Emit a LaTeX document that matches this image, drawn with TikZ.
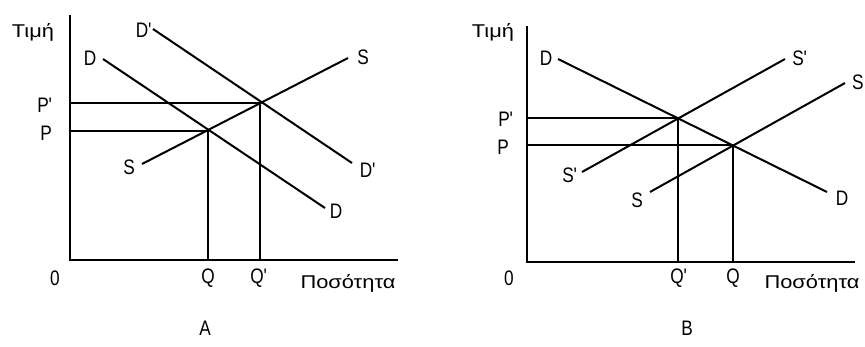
\documentclass[tikz,border=0pt]{standalone}
\usepackage{fontspec}
\setmainfont{Liberation Sans}
\newfontfamily\labfont{Liberation Sans}[FakeStretch=0.82]
\newfontfamily\grfont{Liberation Sans}[FakeStretch=1.18]
\usetikzlibrary{positioning}
\newcommand{\pr}{\textquotesingle}

\begin{document}
\begin{tikzpicture}[x=1pt,y=-1pt,
    axis/.style={line width=2.4pt},
    curve/.style={line width=2pt},
    lab/.style={font=\labfont\fontsize{21}{24}\selectfont,inner sep=0pt},
    grk/.style={font=\grfont\fontsize{18.5}{22}\selectfont,inner sep=0pt}]
  \useasboundingbox (0,0) rectangle (865,346);
  % ---- panel A: demand shifts right
  \coordinate (oA) at (70,260);
  \coordinate (yA) at (70,15);
  \coordinate (xA) at (398,260);
  \draw[axis] (yA) -- (oA) -- (xA);
  \node[grk] (pricA) at (33,32) {Τιμή};
  \node[lab] (zeroA) at (55,278) {0};
  \node[grk] (qtyA) at (348,283) {Ποσότητα};
  \node[lab] (capA) at (205,328) {A};
  % equilibria
  \coordinate (eA) at (208,131);
  \coordinate (eAp) at (260,103);
  \coordinate (pA) at (70,131);
  \coordinate (ppA) at (70,103);
  \coordinate (qA) at (208,260);
  \coordinate (qqA) at (260,260);
  \draw[curve] (pA) -- (eA) -- (qA);
  \draw[curve] (ppA) -- (eAp) -- (qqA);
  \node[lab] (PA) at (46,133) {P};
  \node[lab] (PpA) at (45,105) {P\pr};
  \node[lab] (QA) at (208,278) {Q};
  \node[lab] (QpA) at (259,278) {Q\pr};
  % curves
  \coordinate (d1A) at (103,59);   \coordinate (d2A) at (325,208);
  \coordinate (dd1A) at (153,29);  \coordinate (dd2A) at (352,163);
  \coordinate (s1A) at (142,164);  \coordinate (s2A) at (348,58);
  \draw[curve] (d1A) -- (d2A);
  \draw[curve] (dd1A) -- (dd2A);
  \draw[curve] (s1A) -- (s2A);
  \node[lab] (DlA) at (90,58) {D};
  \node[lab] (DrA) at (336,211) {D};
  \node[lab] (DDlA) at (144,30) {D\pr};
  \node[lab] (DDrA) at (368,170) {D\pr};
  \node[lab] (SlA) at (129,167) {S};
  \node[lab] (SrA) at (363,57) {S};
  % ---- panel B: supply shifts left
  \coordinate (oB) at (527,262);
  \coordinate (yB) at (527,26);
  \coordinate (xB) at (855,262);
  \draw[axis] (yB) -- (oB) -- (xB);
  \node[grk] (pricB) at (493,32) {Τιμή};
  \node[lab] (zeroB) at (509,278) {0};
  \node[grk] (qtyB) at (812,283) {Ποσότητα};
  \node[lab] (capB) at (687,328) {B};
  % equilibria
  \coordinate (eB) at (733,145);
  \coordinate (eBp) at (678,118);
  \coordinate (pB) at (527,145);
  \coordinate (ppB) at (527,118);
  \coordinate (qB) at (733,262);
  \coordinate (qqB) at (678,262);
  \draw[curve] (pB) -- (eB) -- (qB);
  \draw[curve] (ppB) -- (eBp) -- (qqB);
  \node[lab] (PB) at (503,147) {P};
  \node[lab] (PpB) at (506,119) {P\pr};
  \node[lab] (QB) at (733,278) {Q};
  \node[lab] (QpB) at (679,278) {Q\pr};
  % curves
  \coordinate (d1B) at (558,59);   \coordinate (d2B) at (827,192);
  \coordinate (s1B) at (650,192);  \coordinate (s2B) at (845,83);
  \coordinate (ss1B) at (582,172); \coordinate (ss2B) at (785,59);
  \draw[curve] (d1B) -- (d2B);
  \draw[curve] (s1B) -- (s2B);
  \draw[curve] (ss1B) -- (ss2B);
  \node[lab] (DlB) at (546,58) {D};
  \node[lab] (DrB) at (842,198) {D};
  \node[lab] (SlB) at (637,200) {S};
  \node[lab,anchor=west] (SrB) at (852,82) {S};
  \node[lab] (SSlB) at (570,175) {S\pr};
  \node[lab] (SSrB) at (800,58) {S\pr};
\end{tikzpicture}
\end{document}
